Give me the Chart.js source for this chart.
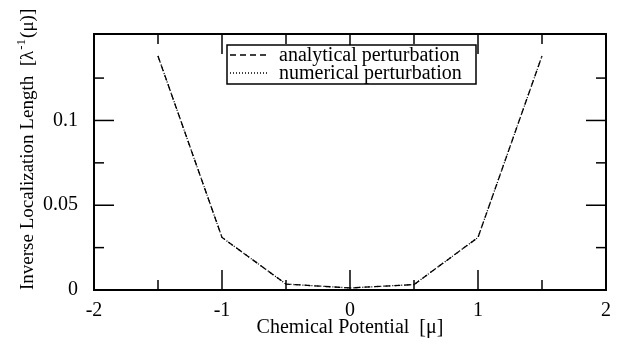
<!DOCTYPE html>
<html>
<head>
<meta charset="utf-8">
<script src="https://cdn.jsdelivr.net/npm/chart.js@4/dist/chart.umd.min.js"></script>
<style>
  html, body { margin: 0; padding: 0; background: #fff; }
  #wrap { width: 618px; height: 345px; }
</style>
</head>
<body>
<div id="wrap"><canvas id="myChart" width="618" height="345"></canvas></div>
<script>
const ctx = document.getElementById('myChart');

// chemical potential values
const mu = [-1.5, -1, -0.5, 0, 0.5, 1, 1.5];
const analytical = [0.138, 0.031, 0.0035, 0.0012, 0.0032, 0.031, 0.138];
const numerical = [0.138, 0.031, 0.0035, 0.0012, 0.0032, 0.031, 0.138];

const xTickLabels = [-2, -1, 0, 1, 2];
const yTickLabels = [0, 0.05, 0.1];
const xMinorTicks = [-1.5, -0.5, 0.5, 1.5];
const yMinorTicks = [0.025, 0.075, 0.125];

const FONT = "'Liberation Serif', 'Times New Roman', serif";

// frame, inward ticks, y title with superscript and boxed legend
const framePlugin = {
  id: 'frame',
  afterDraw(chart) {
    const c = chart.ctx;
    const a = chart.chartArea;
    const xs = chart.scales.x, ys = chart.scales.y;
    c.save();
    c.strokeStyle = '#000';
    c.lineWidth = 2;
    c.strokeRect(a.left, a.top, a.right - a.left, a.bottom - a.top);

    const tick = (x1, y1, x2, y2) => {
      c.beginPath(); c.moveTo(x1, y1); c.lineTo(x2, y2); c.stroke();
    };
    c.lineWidth = 1.5;
    xTickLabels.forEach(v => {
      const px = xs.getPixelForValue(v);
      tick(px, a.bottom, px, a.bottom - 20);
      tick(px, a.top, px, a.top + 20);
    });
    xMinorTicks.forEach(v => {
      const px = xs.getPixelForValue(v);
      tick(px, a.bottom, px, a.bottom - 10);
      tick(px, a.top, px, a.top + 10);
    });
    yTickLabels.forEach(v => {
      const py = ys.getPixelForValue(v);
      tick(a.left, py, a.left + 20, py);
      tick(a.right, py, a.right - 20, py);
    });
    yMinorTicks.forEach(v => {
      const py = ys.getPixelForValue(v);
      tick(a.left, py, a.left + 10, py);
      tick(a.right, py, a.right - 10, py);
    });

    // y axis title
    c.save();
    c.fillStyle = '#000';
    c.textBaseline = 'alphabetic';
    c.translate(33, 290);
    c.rotate(-Math.PI / 2);
    c.font = '19px ' + FONT;
    let t = 'Inverse Localization Length  [\u03bb';
    c.fillText(t, 0, 0);
    let x = c.measureText(t).width;
    c.font = '13px ' + FONT;
    c.fillText('-1', x + 1, -8);
    x += c.measureText('-1').width + 2;
    c.font = '19px ' + FONT;
    c.fillText('(\u03bc)]', x, 0);
    c.restore();

    // legend
    const lx = 227, ly = 45, lw = 249, lh = 39;
    c.fillStyle = '#fff';
    c.fillRect(lx, ly, lw, lh);
    c.lineWidth = 1.5;
    c.strokeRect(lx, ly, lw, lh);
    c.font = '20px ' + FONT;
    c.fillStyle = '#000';
    c.textBaseline = 'middle';
    chart.data.datasets.forEach((ds, i) => {
      const y = ly + 10 + i * 18;
      c.setLineDash(ds.borderDash);
      c.lineWidth = 1.3;
      tick(lx + 3, y, lx + 42, y);
      c.setLineDash([]);
      c.fillText(ds.label, lx + 52, y + 1);
    });
    c.restore();
  }
};

const data = {
  labels: mu,
  datasets: [
    {
      label: 'analytical perturbation',
      data: analytical,
      borderColor: '#000',
      borderWidth: 1.3,
      borderDash: [6, 4],
      pointRadius: 0,
      fill: false,
      tension: 0
    }, {
      label: 'numerical perturbation',
      data: numerical,
      borderColor: '#000',
      borderWidth: 1.3,
      borderDash: [1, 2],
      pointRadius: 0,
      fill: false,
      tension: 0
    }
  ]
};

const myChart = new Chart(ctx, {
  type: 'line',
  data: {
    datasets: data.datasets.map(ds => ({
      ...ds,
      data: ds.data.map((v, i) => ({ x: mu[i], y: v }))
    }))
  },
  options: {
    responsive: false,
    animation: false,
    layout: { padding: { top: 34, right: 12, left: 0, bottom: 0 } },
    plugins: {
      legend: { display: false },
      tooltip: { enabled: false }
    },
    scales: {
      x: {
        type: 'linear',
        min: -2,
        max: 2,
        afterBuildTicks: s => { s.ticks = xTickLabels.map(v => ({ value: v })); },
        afterFit: s => { s.height = 55; },
        grid: { display: false },
        border: { display: false },
        title: {
          display: true,
          text: 'Chemical Potential  [μ]',
          color: '#000',
          font: { size: 20, family: FONT },
          padding: { top: 0, bottom: 5 }
        },
        ticks: {
          color: '#000',
          padding: 1,
          maxRotation: 0,
          font: { size: 20, family: FONT }
        }
      },
      y: {
        type: 'linear',
        min: 0,
        max: 0.151,
        afterBuildTicks: s => { s.ticks = yTickLabels.map(v => ({ value: v })); },
        afterFit: s => { s.width = 94; },
        grid: { display: false },
        border: { display: false },
        ticks: {
          color: '#000',
          padding: 8,
          callback: v => String(v),
          font: { size: 20, family: FONT }
        }
      }
    }
  },
  plugins: [framePlugin]
});
</script>
</body>
</html>
